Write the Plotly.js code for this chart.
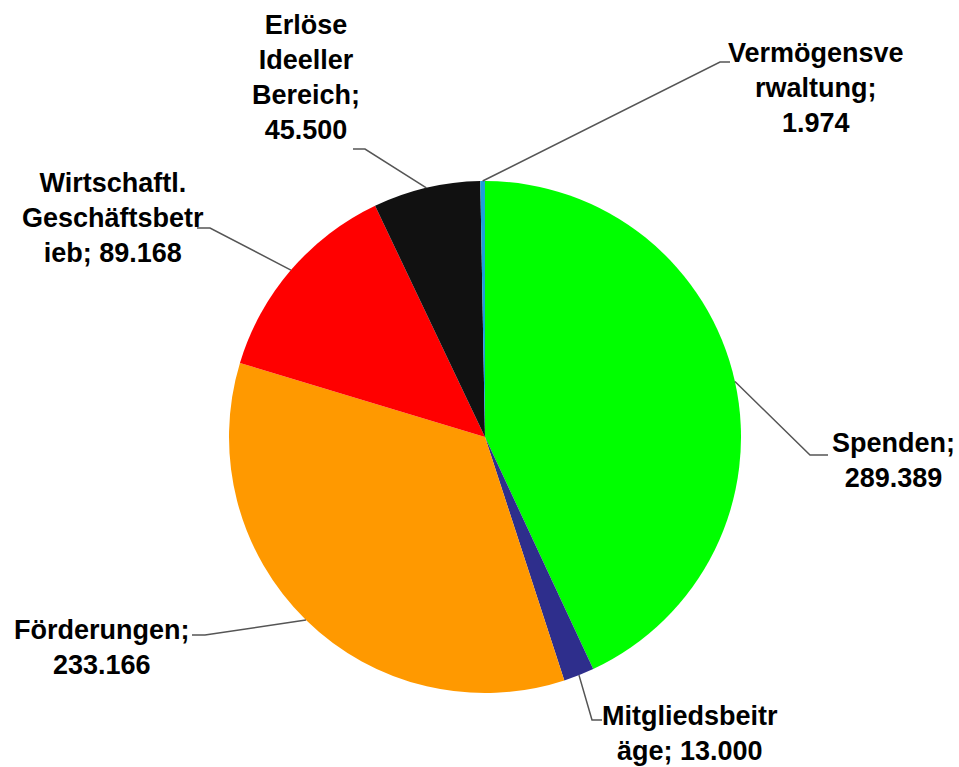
<!DOCTYPE html>
<html>
<head>
<meta charset="utf-8">
<script src="https://cdn.plot.ly/plotly-3.0.1.min.js"></script>
<style>html,body{margin:0;padding:0;background:#fff;}#chart{width:959px;height:767px;}</style>
</head>
<body>
<div id="chart"></div>
<script>
// ---- data ----
var categories = ["Spenden", "Mitgliedsbeiträge", "Förderungen", "Wirtschaftl. Geschäftsbetrieb", "Erlöse Ideeller Bereich", "Vermögensverwaltung"];
var values = [289389, 13000, 233166, 89168, 45500, 1974];
var displayNames = ["Spenden", "Mitgliedsbeitr<br>äge", "Förderungen", "Wirtschaftl.<br>Geschäftsbetr<br>ieb", "Erlöse<br>Ideeller<br>Bereich", "Vermögensve<br>rwaltung"];
var valueSeparators = ["<br>", " ", "<br>", " ", "<br>", "<br>"];
var colors = ["#00ff00", "#2e2e8c", "#ff9900", "#ff0000", "#111111", "#1e9fd8"];

// ---- layout constants (pixels) ----
var W = 959, H = 767;
var CX = 485, CY = 437, R = 256;
var labelCenters = [[893, 460], [690, 733], [102, 647], [113, 218], [306, 78], [816, 88]];
var elbows = [
  [[810, 455], [828, 455]],
  [[592, 720], [602, 720]],
  [[205, 635], [192, 635]],
  [[210, 228], [197, 228]],
  [[365, 149], [353, 149]],
  [[720, 62], [730, 62]]
];

function fmt(n) { return n.toString().replace(/\B(?=(\d{3})+(?!\d))/g, "."); }
function px2x(px) { return px / W; }
function py2y(py) { return 1 - py / H; }

var total = values.reduce(function (a, b) { return a + b; }, 0);
var annotations = [], shapes = [];
var cum = 0;
for (var i = 0; i < values.length; i++) {
  var mid = (cum + values[i] / 2) / total * 2 * Math.PI; // clockwise from top
  cum += values[i];
  var tx = CX + R * Math.sin(mid), ty = CY - R * Math.cos(mid);
  var e = elbows[i];
  shapes.push({
    type: "path", xref: "paper", yref: "paper",
    path: "M " + px2x(tx) + " " + py2y(ty) + " L " + px2x(e[0][0]) + " " + py2y(e[0][1]) + " L " + px2x(e[1][0]) + " " + py2y(e[1][1]),
    line: { color: "#555555", width: 1.5 }
  });
  annotations.push({
    xref: "paper", yref: "paper",
    x: px2x(labelCenters[i][0]), y: py2y(labelCenters[i][1]),
    xanchor: "center", yanchor: "middle", align: "center",
    showarrow: false,
    text: displayNames[i] + ";" + valueSeparators[i] + fmt(values[i]),
    font: { family: "Liberation Sans, Arial, sans-serif", size: 27, color: "#000000", weight: "bold" }
  });
}

var trace = {
  type: "pie",
  labels: categories,
  values: values,
  sort: false,
  direction: "clockwise",
  rotation: 0,
  textinfo: "none",
  hoverinfo: "label+value",
  marker: { colors: colors, line: { width: 0 } },
  domain: { x: [(CX - R) / W, (CX + R) / W], y: [1 - (CY + R) / H, 1 - (CY - R) / H] },
  showlegend: false
};

var layout = {
  width: W, height: H,
  margin: { l: 0, r: 0, t: 0, b: 0 },
  paper_bgcolor: "#ffffff",
  showlegend: false,
  annotations: annotations,
  shapes: shapes
};

Plotly.newPlot("chart", [trace], layout, { displayModeBar: false, staticPlot: true });
</script>
</body>
</html>
